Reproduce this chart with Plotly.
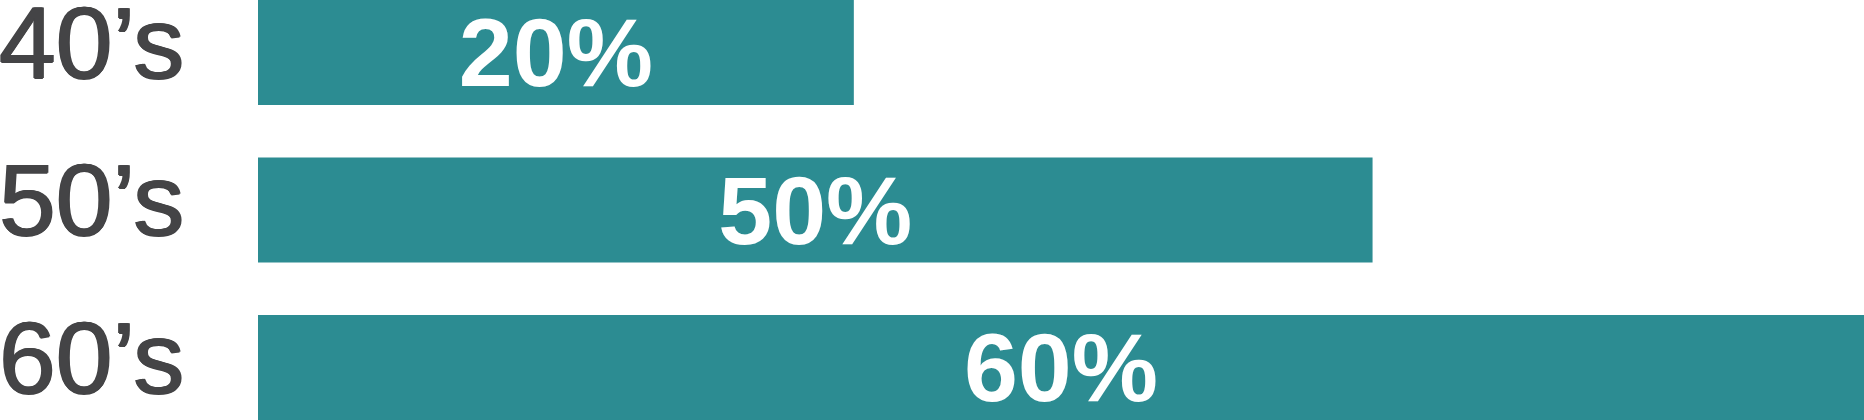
#!/bin/env python3

# packages
import plotly.graph_objects as go

# data
decades = ["40’s", "50’s", "60’s"]
share_labels = ["20%", "50%", "60%"]
# drawn bar length, in percent of the bar track
bar_length = [37.1, 69.4, 100]

TEAL = "#2c8c92"
GREY = "#444446"

W, H = 1864, 420
LEFT = 258
PITCH = 157.5  # px per category row

# a thin shadow on both sides gives the labels a medium weight
MEDIUM = "1px 0px 0px {c}, -1px 0px 0px {c}, 0px 0.6px 0px {c}".format(c=GREY)


def build_figure():
	fig = go.Figure(go.Bar(
		x=bar_length,
		y=decades,
		orientation="h",
		marker=dict(color=TEAL, line=dict(width=0)),
		text=share_labels,
		textposition="inside",
		insidetextanchor="middle",
		constraintext="none",
		textangle=0,
		textfont=dict(family="Liberation Sans", size=97, color="white", weight="bold"),
		hoverinfo="skip",
	))

	# decade labels sit left-aligned in the margin, a little above the bar centre
	for d in decades:
		fig.add_annotation(
			x=0, xref="paper", xanchor="left", xshift=-LEFT - 3,
			y=d, yref="y", yanchor="middle", yshift=10,
			text=d, showarrow=False,
			font=dict(family="Liberation Sans", size=102, color=GREY, shadow=MEDIUM),
		)

	top = -52.5 / PITCH
	fig.update_layout(
		width=W, height=H,
		autosize=False,
		margin=dict(l=LEFT, r=0, t=0, b=0),
		paper_bgcolor="white",
		plot_bgcolor="white",
		bargap=1 / 3,
		showlegend=False,
	)
	fig.update_xaxes(range=[0, 100], visible=False, fixedrange=True)
	fig.update_yaxes(
		type="category",
		range=[top + H / PITCH, top],
		automargin=False,
		showgrid=False, zeroline=False, showline=False,
		showticklabels=False, ticks="",
		fixedrange=True,
	)
	return fig


fig = build_figure()
# drop the default body margin so the figure sits at the page corner
fig.write_html("out.html", config={"displayModeBar": False},
			   post_script="document.body.style.margin='0';")
